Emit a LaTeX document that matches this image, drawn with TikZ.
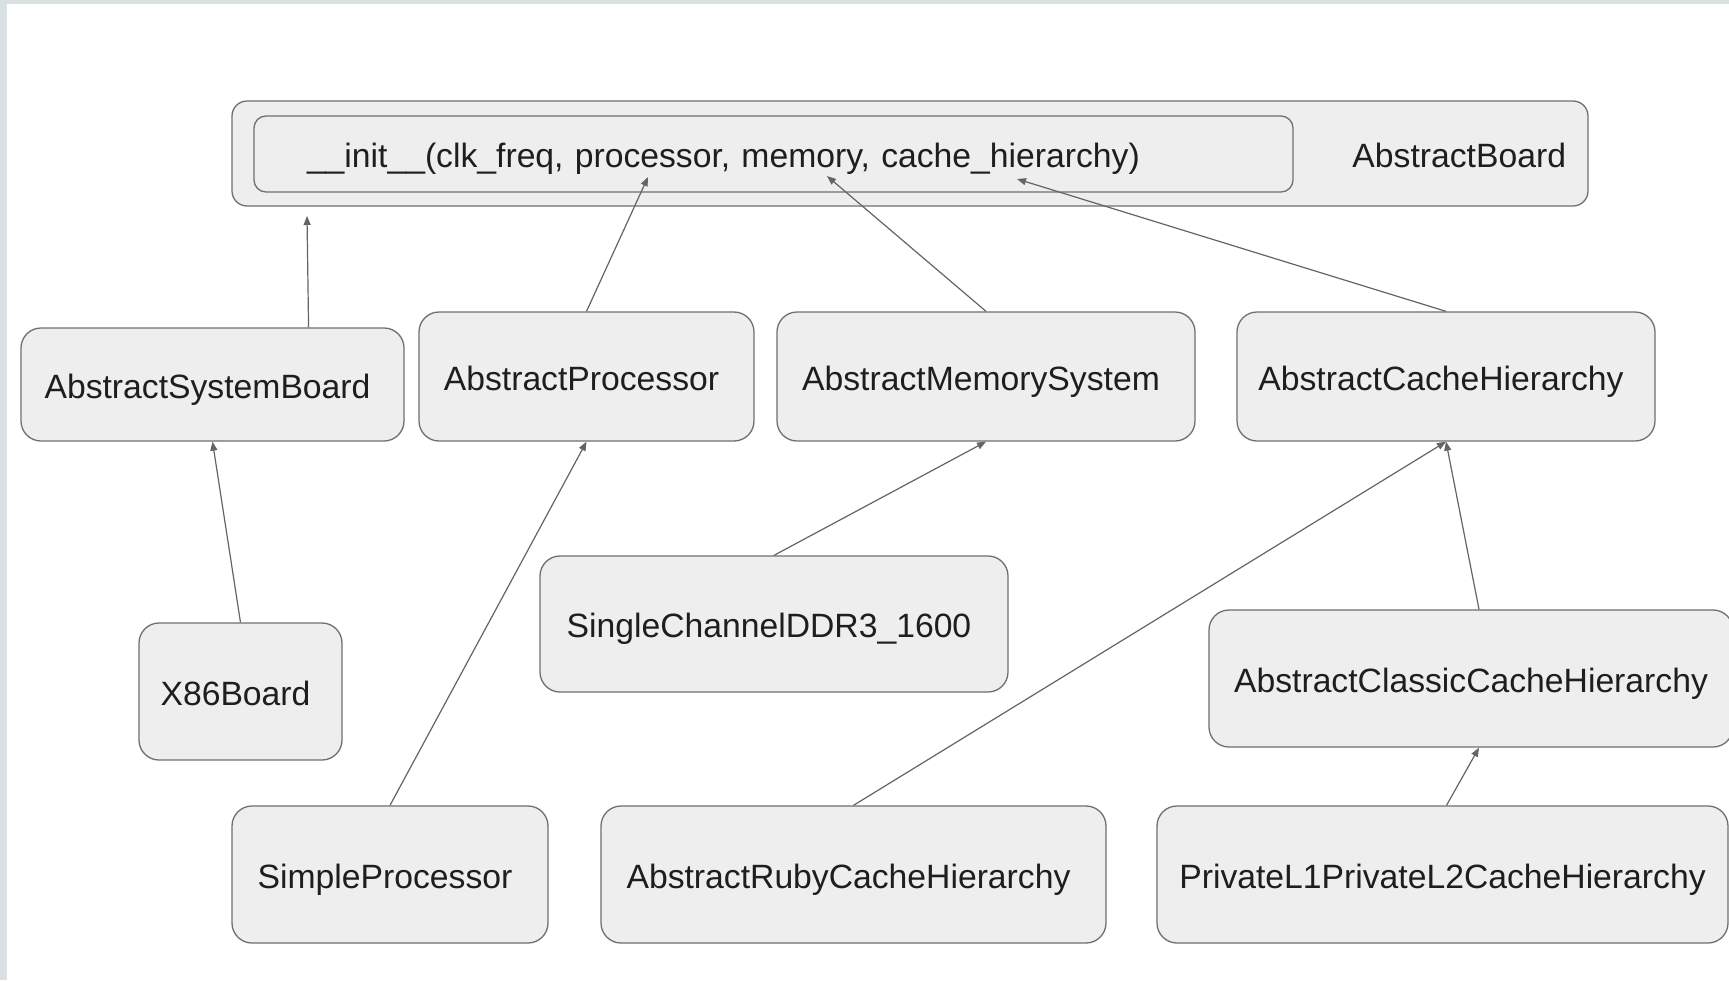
\documentclass[tikz,border=0pt]{standalone}
\usepackage{fontspec}
\setmainfont{Liberation Sans}
\usetikzlibrary{arrows.meta,calc}
\definecolor{boxfill}{RGB}{238,238,238}
\definecolor{boxline}{RGB}{112,112,112}
\definecolor{arrline}{RGB}{100,100,100}
\definecolor{pageframe}{RGB}{218,225,227}
\definecolor{txt}{RGB}{30,30,30}

\begin{document}
\begin{tikzpicture}[
    x=1pt, y=-1pt,
    plainbox/.style={rectangle, rounded corners=20pt, draw=boxline, line width=1.3pt, fill=boxfill,
                 text=txt, inner sep=0pt, align=center, text height=34pt, text depth=7pt,
                 font=\fontsize{33.7}{40}\selectfont},
    classbox/.style={plainbox, execute at begin node={\kern-10pt}},
    arr/.style={-{Triangle[length=9pt,width=7pt]}, line width=1.2pt, arrline}
]
% page frame
\fill[pageframe] (0,0) rectangle (1729,980);
\fill[white] (7,4) rectangle (1729,980);
\useasboundingbox (0,0) rectangle (1729,980);

% board with its constructor
\node[plainbox, rounded corners=15pt, minimum width=1356pt, minimum height=105pt,
      inner xsep=22pt, text width=1312pt, align=right] (board) at (910,153.5) {AbstractBoard};
\node[plainbox, rounded corners=12pt, minimum height=76pt, inner xsep=53pt,
      text width=933pt, align=left] (init) at (773.5,154)
      {\_\_init\_\_(clk\_freq, processor, memory, cache\_hierarchy)};

% abstract components
\node[classbox, minimum width=383pt, minimum height=113pt] (sysboard) at (212.5,384.5) {AbstractSystemBoard};
\node[classbox, minimum width=335pt, minimum height=129pt] (proc) at (586.5,376.5) {AbstractProcessor};
\node[classbox, minimum width=418pt, minimum height=129pt] (memsys) at (986,376.5) {AbstractMemorySystem};
\node[classbox, minimum width=418pt, minimum height=129pt] (cachehier) at (1446,376.5) {AbstractCacheHierarchy};

% concrete components
\node[classbox, minimum width=468pt, minimum height=136pt] (ddr3) at (774,624) {SingleChannelDDR3\_1600};
\node[classbox, minimum width=203pt, minimum height=137pt] (x86) at (240.5,691.5) {X86Board};
\node[plainbox, minimum width=524pt, minimum height=137pt] (classic) at (1471,678.5) {AbstractClassicCacheHierarchy};
\node[classbox, minimum width=316pt, minimum height=137pt] (simpleproc) at (390,874.5) {SimpleProcessor};
\node[classbox, minimum width=505pt, minimum height=137pt] (ruby) at (853.5,874.5) {AbstractRubyCacheHierarchy};
\node[plainbox, minimum width=571pt, minimum height=137pt] (privl1) at (1442.5,874.5) {PrivateL1PrivateL2CacheHierarchy};

% targets on the board
\coordinate (tboard) at (307,216);
\coordinate (tproc) at (648,177);
\coordinate (tmem) at (827,176);
\coordinate (tcache) at (1017,179);

\draw[arr] ($(sysboard.north west)!0.75!(sysboard.north east)$) -- (tboard);
\draw[arr] (proc.north) -- (tproc);
\draw[arr] (memsys.north) -- (tmem);
\draw[arr] (cachehier.north) -- (tcache);
\draw[arr] (x86.north) -- (sysboard.south);
\draw[arr] (simpleproc.north) -- (proc.south);
\draw[arr] (ddr3.north) -- (memsys.south);
\draw[arr] (ruby.north) -- (cachehier.south);
\draw[arr] ([xshift=8pt]classic.north) -- (cachehier.south);
\draw[arr] ([xshift=4pt]privl1.north) -- ([xshift=8pt]classic.south);
\end{tikzpicture}
\end{document}
